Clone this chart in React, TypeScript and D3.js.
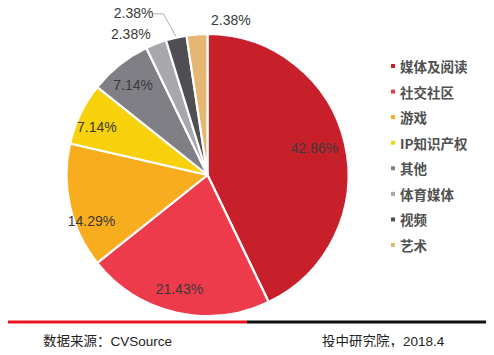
import React from "react";
import * as d3 from "d3";

const categories = ["媒体及阅读", "社交社区", "游戏", "IP知识产权", "其他", "体育媒体", "视频", "艺术"];
const values = [42.86, 21.43, 14.29, 7.14, 7.14, 2.38, 2.38, 2.38];
const labels = ["42.86%", "21.43%", "14.29%", "7.14%", "7.14%", "2.38%", "2.38%", "2.38%"];
const colors = ["#C8202B", "#EE3B4C", "#F7AD1E", "#F6D10C", "#7F7F85", "#A7A7AC", "#4F4F53", "#E6B673"];
const sourceText = "数据来源：CVSource";
const creditText = "投中研究院，2018.4";

const W = 494;
const H = 355;
const cx = 207.5;
const cy = 175;
const R = 141;
// small nudges of inside labels (style only)
const labelNudge: [number, number][] = [[-3, -2], [-3, 4], [-6, 21], [-9, 1], [-4, -2]];

export default function App() {
  const pie = d3.pie<number>().sort(null).value((d) => d);
  const arcs = pie(values);
  const arcGen = d3.arc<d3.PieArcDatum<number>>().innerRadius(0).outerRadius(R);
  const labelArc = d3.arc<d3.PieArcDatum<number>>().innerRadius(R * 0.8).outerRadius(R * 0.8);
  const polar = (a: number, r: number): [number, number] => [Math.sin(a) * r, -Math.cos(a) * r];

  const legendY = d3.scalePoint<string>().domain(categories).range([66, 245]);
  const latin = "'Liberation Sans', Arial, 'Noto Sans CJK SC', sans-serif";

  return (
    <div style={{ margin: -8, width: W, height: H }}>
      <svg width={W} height={H} style={{ display: "block", background: "#fff" }}>
        <g transform={`translate(${cx},${cy})`}>
          {arcs.map((a, i) => (
            <path key={i} d={arcGen(a) || ""} fill={colors[i]} stroke="#fff" strokeWidth={2.2} strokeLinejoin="round" />
          ))}
          {arcs.map((a, i) => {
            if (i >= 5) return null;
            const [x, y] = labelArc.centroid(a);
            const [nx, ny] = labelNudge[i];
            return (
              <text key={i} x={x + nx} y={y + ny} textAnchor="middle" dominantBaseline="central"
                fontFamily={latin} fontSize={14} fill="#3a3a3a">
                {labels[i]}
              </text>
            );
          })}
          {arcs.map((a, i) => {
            if (i < 5) return null;
            const mid = (a.startAngle + a.endAngle) / 2;
            const [px, py] = polar(mid, R + 12);
            const common = {
              fontFamily: latin,
              fontSize: 14,
              fill: "#3a3a3a",
              dominantBaseline: "central" as const,
            };
            if (i === 5) {
              return (
                <text key={i} x={px - 1} y={py + 1} textAnchor="end" {...common}>{labels[i]}</text>
              );
            }
            if (i === 6) {
              const [ex, ey] = polar(mid, R + 1);
              const elbowX = px - 10;
              const elbowY = py - 12;
              return (
                <g key={i}>
                  <polyline points={`${ex},${ey} ${elbowX},${elbowY} ${elbowX - 10},${elbowY}`}
                    fill="none" stroke="#9a9a9a" strokeWidth={0.8} />
                  <text x={elbowX - 10} y={elbowY - 1} textAnchor="end" {...common}>{labels[i]}</text>
                </g>
              );
            }
            return (
              <text key={i} x={px + 15} y={py - 2} textAnchor="start" {...common}>{labels[i]}</text>
            );
          })}
        </g>

        {categories.map((c, i) => {
          const y = legendY(c) as number;
          return (
            <g key={c}>
              <rect x={391} y={y - 2} width={4} height={4} fill={colors[i]} />
              <text x={400} y={y} dominantBaseline="central" fontFamily="'Noto Sans CJK SC', sans-serif"
                fontSize={13.5} fontWeight="bold" fill="#505050">
                {c}
              </text>
            </g>
          );
        })}

        <rect x={7} y={320.5} width={240} height={3} fill="#E8141E" />
        <rect x={247} y={320.5} width={240} height={3} fill="#111" />

        <text x={43} y={341} dominantBaseline="central" fontFamily={latin}
          fontSize={13.5} fill="#222">
          {sourceText}
        </text>
        <text x={322} y={341} dominantBaseline="central" fontFamily={latin}
          fontSize={13.5} fill="#222">
          {creditText}
        </text>
      </svg>
    </div>
  );
}
